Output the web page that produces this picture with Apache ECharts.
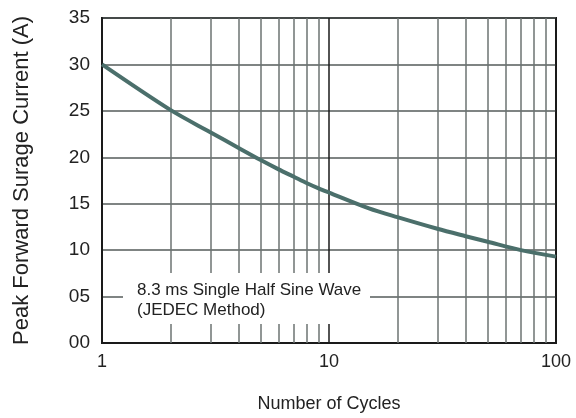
<!DOCTYPE html>
<html>
<head>
<meta charset="utf-8">
<script src="https://cdn.jsdelivr.net/npm/echarts@6/dist/echarts.min.js"></script>
<style>html,body{margin:0;padding:0;background:#fff}#c{width:576px;height:418px}</style>
</head>
<body>
<div id="c"></div>
<script>
var cycles = [1, 2, 3, 4, 5, 6, 7, 8, 9, 10, 15, 20, 30, 40, 50, 70, 100];
var current = [30, 25.1, 22.7, 21.0, 19.7, 18.7, 17.9, 17.2, 16.65, 16.2, 14.5, 13.55, 12.3, 11.5, 10.9, 10.0, 9.3];
var minorGrid = [2, 3, 4, 5, 6, 7, 8, 9, 20, 30, 40, 50, 60, 70, 80, 90];
var yTicks = [0, 5, 10, 15, 20, 25, 30, 35];
var noteLines = ['8.3 ms Single Half Sine Wave', '(JEDEC Method)'];

var chart = echarts.init(document.getElementById('c'));
var font = 'Liberation Sans, Arial, sans-serif';
chart.setOption({
  animation: false,
  grid: {left: 102, right: 20, top: 18, bottom: 72, show: true, borderColor: '#1a1a1a', borderWidth: 2},
  xAxis: {
    type: 'log', logBase: 10, min: 1, max: 100,
    name: 'Number of Cycles', nameLocation: 'middle', nameGap: 52,
    nameTextStyle: {fontSize: 18, color: '#222', fontFamily: font},
    axisLine: {lineStyle: {color: '#1a1a1a', width: 2}},
    axisTick: {show: false},
    axisLabel: {fontSize: 18, color: '#222', fontFamily: font, margin: 10},
    splitLine: {show: true, lineStyle: {color: '#1a1a1a', width: 1.5}}
  },
  yAxis: {
    type: 'value', min: yTicks[0], max: yTicks[yTicks.length - 1], interval: 5,
    name: 'Peak Forward Surage Current (A)', nameLocation: 'middle', nameGap: 69,
    nameTextStyle: {fontSize: 22, color: '#222', fontFamily: font},
    axisLine: {show: true, lineStyle: {color: '#1a1a1a', width: 2}},
    axisTick: {show: false},
    axisLabel: {fontSize: 19, color: '#222', fontFamily: font, margin: 12,
      formatter: function (v) { return (v < 10 ? '0' : '') + v; }},
    splitLine: {show: true, lineStyle: {color: '#555b5a', width: 1.5}}
  },
  graphic: [
    {type: 'rect', z: 100, shape: {x: 123, y: 273, width: 247, height: 51}, style: {fill: '#fff'}},
    {type: 'text', z: 101, left: 137, top: 280, style: {text: noteLines.join('\n'), font: '17px ' + font, fill: '#222', lineHeight: 20}}
  ],
  series: [{
    type: 'line',
    data: cycles.map(function (c, i) { return [c, current[i]]; }),
    smooth: 0.3, showSymbol: false, symbol: 'none',
    lineStyle: {color: '#4b6f6b', width: 4},
    z: 5,
    markLine: {
      silent: true, symbol: 'none', label: {show: false},
      lineStyle: {color: '#6d7372', width: 1.5, type: 'solid'},
      data: minorGrid.map(function (v) { return {xAxis: v}; }),
      z: 1
    }
  }]
});
</script>
</body>
</html>
